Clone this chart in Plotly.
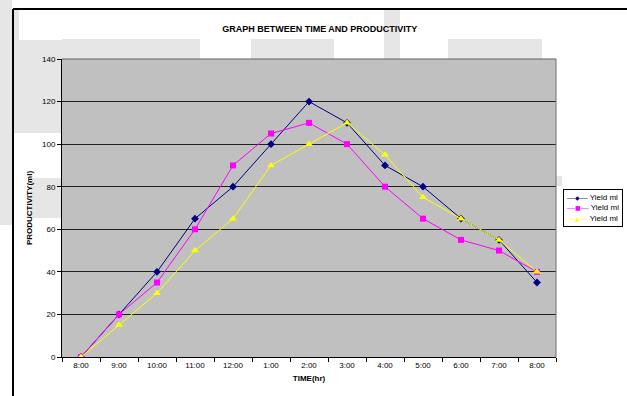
import plotly.graph_objects as go

time_labels = ["8:00", "9:00", "10:00", "11:00", "12:00", "1:00", "2:00",
               "3:00", "4:00", "5:00", "6:00", "7:00", "8:00"]
series_names = ["Yield ml", "Yield ml", "Yield ml"]
yield_1 = [0, 20, 40, 65, 80, 100, 120, 110, 90, 80, 65, 55, 35]
yield_2 = [0, 20, 35, 60, 90, 105, 110, 100, 80, 65, 55, 50, 40]
yield_3 = [0, 15, 30, 50, 65, 90, 100, 110, 95, 75, 65, 55, 40]
y_ticks = [0, 20, 40, 60, 80, 100, 120, 140]

x_idx = list(range(len(time_labels)))
FONT = "Liberation Sans, Arial, sans-serif"

W, H = 627, 396
ML, MR, MT, MB = 62, 71, 59, 39
PW, PH = W - ML - MR, H - MT - MB


def px_x(x):
    return (x - ML) / PW


def px_y(y):
    return (H - MB - y) / PH


fig = go.Figure()
styles = [
    ("#000080", "diamond", 6, "\u25C6"),
    ("#FF00FF", "square", 6, "\u25A0"),
    ("#FFFF00", "triangle-up", 7, "\u25B2"),
]
for vals, name, (col, sym, sz, _) in zip([yield_1, yield_2, yield_3], series_names, styles):
    fig.add_trace(go.Scatter(
        x=x_idx, y=vals, name=name, mode="lines+markers",
        line=dict(color=col, width=1),
        marker=dict(color=col, symbol=sym, size=sz, line=dict(width=0)),
        showlegend=False,
    ))

fig.update_layout(
    width=W, height=H,
    margin=dict(l=ML, r=MR, t=MT, b=MB, autoexpand=False),
    paper_bgcolor="white",
    plot_bgcolor="#C0C0C0",
    font=dict(family=FONT, size=8, color="black"),
    title=dict(text="<b>GRAPH BETWEEN TIME AND PRODUCTIVITY</b>",
               x=0.51, xanchor="center", y=0.927, yanchor="middle",
               font=dict(family=FONT, size=9, color="black")),
    showlegend=False,
)

fig.update_xaxes(
    range=[-0.5, len(time_labels) - 0.5],
    tickmode="array", tickvals=x_idx, ticktext=time_labels,
    ticks="", showgrid=False, zeroline=False,
    showline=True, linecolor="black", linewidth=1, mirror=False,
    minor=dict(tick0=-0.5, dtick=1, ticks="outside", ticklen=4,
               tickcolor="black", showgrid=False),
    title=dict(text="<b>TIME(hr)</b>", font=dict(family=FONT, size=8), standoff=6),
    tickfont=dict(family=FONT, size=8),
)
fig.update_yaxes(
    range=[0, 140], tickmode="array", tickvals=y_ticks,
    ticks="outside", ticklen=4, tickcolor="black",
    showgrid=True, gridcolor="#202020", gridwidth=1, zeroline=False,
    showline=True, linecolor="black", linewidth=1,
    title=dict(text="<b>PRODUCTIVITY(ml)</b>", font=dict(family=FONT, size=8), standoff=8),
    tickfont=dict(family=FONT, size=8),
)

# legend box (Excel style, compact)
legend_lines = []
for name, (col, _, _, glyph) in zip(series_names, styles):
    legend_lines.append(
        f"<span style='color:{col}'>\u2014<span style=\"font-family:'DejaVu Sans';font-size:6px\">{glyph}</span>\u2014</span> {name}"
    )
fig.add_annotation(
    xref="paper", yref="paper", x=px_x(563), y=px_y(189),
    xanchor="left", yanchor="top", align="left", showarrow=False,
    text="<br>".join(legend_lines),
    font=dict(family=FONT, size=8, color="black"),
    bgcolor="white", bordercolor="black", borderwidth=1, borderpad=3,
)

# faint watermark patches from the scanned page (behind everything)
wm = "#e6e6e6"
patches = [
    (0, 0, 12, 225),
    (14, 40, 62, 133),
    (14, 10, 19, 40),
    (30, 178, 62, 218),
    (62, 39, 200, 59),
    (251, 39, 334, 59),
    (384, 10, 400, 59),
    (448, 39, 542, 59),
    (556, 176, 562, 186),
]
for x0, y0, x1, y1 in patches:
    fig.add_shape(type="rect", xref="paper", yref="paper", layer="below",
                  x0=px_x(x0), x1=px_x(x1), y0=px_y(y1), y1=px_y(y0),
                  fillcolor=wm, line=dict(width=0))

# right / top border of plot area (gray)
fig.add_shape(type="line", xref="paper", yref="paper", x0=1, x1=1, y0=0, y1=1,
              line=dict(color="#707070", width=1))
fig.add_shape(type="line", xref="paper", yref="paper", x0=0, x1=1, y0=1, y1=1,
              line=dict(color="#606060", width=1))

# chart frame (top and left edges)
fig.add_shape(type="line", xref="paper", yref="paper",
              x0=px_x(13), x1=px_x(640), y0=px_y(9), y1=px_y(9),
              line=dict(color="black", width=2))
fig.add_shape(type="line", xref="paper", yref="paper",
              x0=px_x(13), x1=px_x(13), y0=px_y(400), y1=px_y(9),
              line=dict(color="black", width=2))

fig.write_html("out.html")
